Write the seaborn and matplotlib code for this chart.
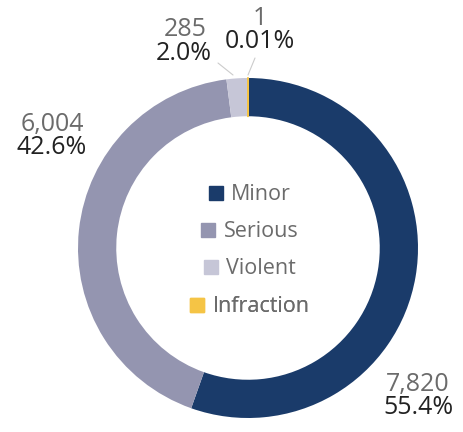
import seaborn as sns
import matplotlib.pyplot as plt
import matplotlib.patches as mpatches

categories = ["Minor", "Serious", "Violent", "Infraction"]
counts = [7820, 6004, 285, 1]
count_labels = ["7,820", "6,004", "285", "1"]
pct_labels = ["55.4%", "42.6%", "2.0%", "0.01%"]
colors = ["#1a3b6a", "#9495b0", "#c6c6d7", "#f5c445"]

sns.set_theme(style="white")
plt.rcParams["font.family"] = ["Open Sans", "DejaVu Sans"]

fig = plt.figure(figsize=(4.64, 4.32), dpi=100)
ax = fig.add_axes([0, 0, 1, 1])

# pixel -> data helper (center of ring at px (248, 248), radius 170 px)
def px(x, y):
    return (x - 248) / 170, (248 - y) / 170

wedges, _ = ax.pie(counts, colors=colors, startangle=90, counterclock=False,
                   radius=1, wedgeprops=dict(width=0.225, linewidth=0))
# tiny slice would vanish, give it a visible edge
wedges[3].set_edgecolor(colors[3])
wedges[3].set_linewidth(1.2)

ax.set_xlim(-248 / 170, (464 - 248) / 170)
ax.set_ylim((248 - 432) / 170, 248 / 170)
ax.set_aspect("equal")
ax.axis("off")

grey = "#6b6b6b"
dark = "#222222"
label_pos = [((418, 385), (418, 408)),
             ((52, 124), (52, 147)),
             ((185, 30), (184, 54)),
             ((260, 19), (260, 42))]
for i, ((c1, c2)) in enumerate(label_pos):
    ax.text(*px(*c1), count_labels[i], ha="center", va="center",
            fontsize=18, color=grey)
    ax.text(*px(*c2), pct_labels[i], ha="center", va="center",
            fontsize=18, color=dark)

# leader lines for small slices
for (x0, y0), (x1, y1) in [((218, 63), (233, 75)), ((255, 58), (248, 75))]:
    a, b = px(x0, y0)
    c, d = px(x1, y1)
    ax.plot([a, c], [b, d], color="#cccccc", lw=0.8)

# centered legend, one row each
row_y = [195, 232, 269, 307]
for cat, col, y in zip(categories, colors, row_y):
    leg = ax.legend(handles=[mpatches.Patch(color=col)], labels=[cat],
                    loc="center", bbox_to_anchor=px(250, y),
                    bbox_transform=ax.transData, frameon=False,
                    fontsize=15.5, handlelength=0.65, handleheight=0.65,
                    handletextpad=0.4, borderpad=0, labelcolor=grey)
    ax.add_artist(leg)

plt.savefig("out.png", dpi=100)
